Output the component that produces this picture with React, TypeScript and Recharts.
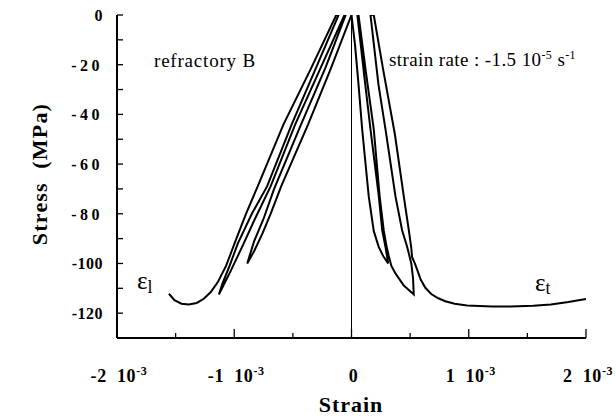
import React from 'react'
import { LineChart, Line, XAxis, YAxis, ReferenceLine } from 'recharts'

// strain in units of 10^-3, stress in MPa
const xTicks = [-2, -1.5, -1, -0.5, 0, 0.5, 1, 1.5, 2]
const yTicks = [0, -10, -20, -30, -40, -50, -60, -70, -80, -90, -100, -110, -120]

// lateral strain (left branch), loading / unloading cycles in order
const lateralStrain = [
  0, -0.18, -0.37, -0.6, -0.69, -0.76, -0.83, -0.889,
  -0.87, -0.83, -0.75, -0.66, -0.43, -0.22, -0.05,
  -0.06, -0.27, -0.48, -0.69, -0.83, -0.93, -1.03, -1.131,
  -1.1, -1.04, -0.97, -0.85, -0.72, -0.51, -0.3, -0.11,
  -0.13, -0.35, -0.58, -0.8, -0.9, -0.99, -1.07, -1.14, -1.2, -1.26, -1.32, -1.387, -1.45, -1.51, -1.557,
]
const lateralStress = [
  0, -22, -44, -69, -80, -88, -95, -100,
  -97, -91, -82, -70, -44, -21, 0,
  0, -22, -44, -69, -82.7, -93, -103, -112.5,
  -108, -101, -92, -80, -69, -44, -21, 0,
  0, -22, -44, -69, -80, -91, -101, -107.5, -111.5, -114.2, -115.9, -116.5, -116.2, -114.8, -112.2,
]

// axial strain (right branch)
const axialStrain = [
  0, 0.03, 0.06, 0.091, 0.12, 0.147, 0.19, 0.233, 0.27, 0.313,
  0.29, 0.262, 0.233, 0.162, 0.11, 0.05,
  0.06, 0.12, 0.19, 0.24, 0.275, 0.3, 0.318, 0.34, 0.375, 0.446, 0.531,
  0.525, 0.51, 0.475, 0.432, 0.375, 0.29, 0.23, 0.162,
  0.19, 0.27, 0.37, 0.446, 0.489, 0.509, 0.517, 0.54, 0.56, 0.59, 0.63, 0.68, 0.74, 0.8, 0.88, 0.986,
  1.2, 1.355, 1.55, 1.7, 1.85, 2.0,
]
const axialStress = [
  0, -12, -28, -46, -60, -73, -87, -93.4, -97, -100,
  -93.4, -86.7, -73, -46, -25, 0,
  0, -22, -46, -73, -86.7, -93.4, -97, -101, -104, -108.9, -112.5,
  -106, -100, -93.4, -86.7, -73, -46, -28, 0,
  0, -22, -48, -73, -86.7, -93.4, -97.5, -100, -102.5, -106.5, -109.8, -112.3, -114, -115.2, -116.2, -116.9,
  -117.3, -117.3, -117, -116.5, -115.5, -114.3,
]

const lateral = lateralStrain.map((x, i) => ({ x, y: lateralStress[i] }))
const axial = axialStrain.map((x, i) => ({ x, y: axialStress[i] }))

const serif = '"Liberation Serif", "Times New Roman", serif'

const BottomTick = (props: any) => {
  const { x, y, payload } = props
  const v = payload.value
  const major = Number.isInteger(v)
  return (
    <g>
      <line x1={x} y1={y} x2={x} y2={y - (major ? 9 : 5)} stroke="#000" strokeWidth={1.3} />
      {major && (
        <text x={x + 2} y={y + 44} textAnchor="middle" fontFamily={serif} fontWeight="bold" fontSize={18} letterSpacing={0.6} fill="#000">
          {v === 0 ? '0' : (
            <>
              {v + '\u00a0\u00a010'}
              <tspan dy={-7} fontSize={12}>-3</tspan>
            </>
          )}
        </text>
      )}
    </g>
  )
}

const TopTick = (props: any) => {
  const { x, y, payload } = props
  const major = Number.isInteger(payload.value)
  return <line x1={x} y1={y} x2={x} y2={y + (major ? 9 : 5)} stroke="#000" strokeWidth={1.3} />
}

const LeftTick = (props: any) => {
  const { x, y, payload } = props
  const v = payload.value
  const labelled = v % 20 === 0
  return (
    <g>
      <line x1={x} y1={y} x2={x + 6} y2={y} stroke="#000" strokeWidth={1.3} />
      {labelled && (
        <text x={x - 14} y={y + 6} textAnchor="end" fontFamily={serif} fontWeight="bold" fontSize={16}
          letterSpacing={String(v).length === 3 ? 3.5 : 0.5} fill="#000">
          {v}
        </text>
      )}
    </g>
  )
}

const RightTick = (props: any) => {
  const { x, y } = props
  return <line x1={x} y1={y} x2={x - 7} y2={y} stroke="#000" strokeWidth={1.3} />
}

export default function App() {
  return (
    <div style={{ position: 'absolute', left: 0, top: 0, width: 616, height: 416, background: '#fff' }}>
      <LineChart width={616} height={416} data={lateral} margin={{ top: 15, right: 30, bottom: 0, left: 0 }}>
        <XAxis xAxisId="b" dataKey="x" type="number" domain={[-2, 2]} ticks={xTicks} orientation="bottom"
          height={78} tickSize={0} tickMargin={0} tickLine={false} tick={<BottomTick />} interval={0}
          axisLine={{ stroke: '#000', strokeWidth: 2 }} allowDataOverflow />
        <XAxis xAxisId="t" dataKey="x" type="number" domain={[-2, 2]} ticks={xTicks} orientation="top"
          height={0} tickSize={0} tickMargin={0} tickLine={false} tick={<TopTick />} interval={0}
          axisLine={{ stroke: '#000', strokeWidth: 2 }} allowDataOverflow />
        <YAxis yAxisId="l" type="number" domain={[-130, 0]} ticks={yTicks} orientation="left"
          width={117} tickSize={0} tickMargin={0} tickLine={false} tick={<LeftTick />} interval={0}
          axisLine={{ stroke: '#000', strokeWidth: 2 }} allowDataOverflow />
        <YAxis yAxisId="r" type="number" domain={[-130, 0]} ticks={yTicks} orientation="right"
          width={0} tickSize={0} tickMargin={0} tickLine={false} tick={<RightTick />} interval={0}
          axisLine={{ stroke: '#000', strokeWidth: 2 }} allowDataOverflow />
        <ReferenceLine xAxisId="b" yAxisId="l" x={0} stroke="#000" strokeWidth={1} />
        <Line xAxisId="b" yAxisId="l" data={lateral} dataKey="y" type="linear" stroke="#000" strokeWidth={2}
          dot={false} isAnimationActive={false} />
        <Line xAxisId="t" yAxisId="r" data={axial} dataKey="y" type="linear" stroke="#000" strokeWidth={2}
          dot={false} isAnimationActive={false} />
        <text x={154} y={67} fontFamily={serif} fontSize={19} letterSpacing={0.8} fill="#000">refractory B</text>
        <text x={389} y={66} fontFamily={serif} fontSize={19} letterSpacing={0.4} fill="#000">
          strain rate : -1.5 10<tspan dy={-7} fontSize={12}>-5</tspan>
          <tspan dy={7}>{' s'}</tspan>
          <tspan dy={-7} fontSize={12}>-1</tspan>
        </text>
        <text x={137} y={289} fontFamily={serif} fontSize={25} fill="#000">
          ε<tspan dy={4} fontSize={18}>l</tspan>
        </text>
        <text x={535} y={291} fontFamily={serif} fontSize={25} fill="#000">
          ε<tspan dy={3} fontSize={18}>t</tspan>
        </text>
        <text x={351} y={412} textAnchor="middle" fontFamily={serif} fontWeight="bold" fontSize={22} letterSpacing={1} fill="#000">
          Strain
        </text>
        <text x={0} y={0} transform="translate(47 174) rotate(-90)" textAnchor="middle" fontFamily={serif}
          fontWeight="bold" fontSize={22} letterSpacing={1.2} fill="#000">
          {'Stress\u00a0\u00a0(MPa)'}
        </text>
      </LineChart>
    </div>
  )
}
